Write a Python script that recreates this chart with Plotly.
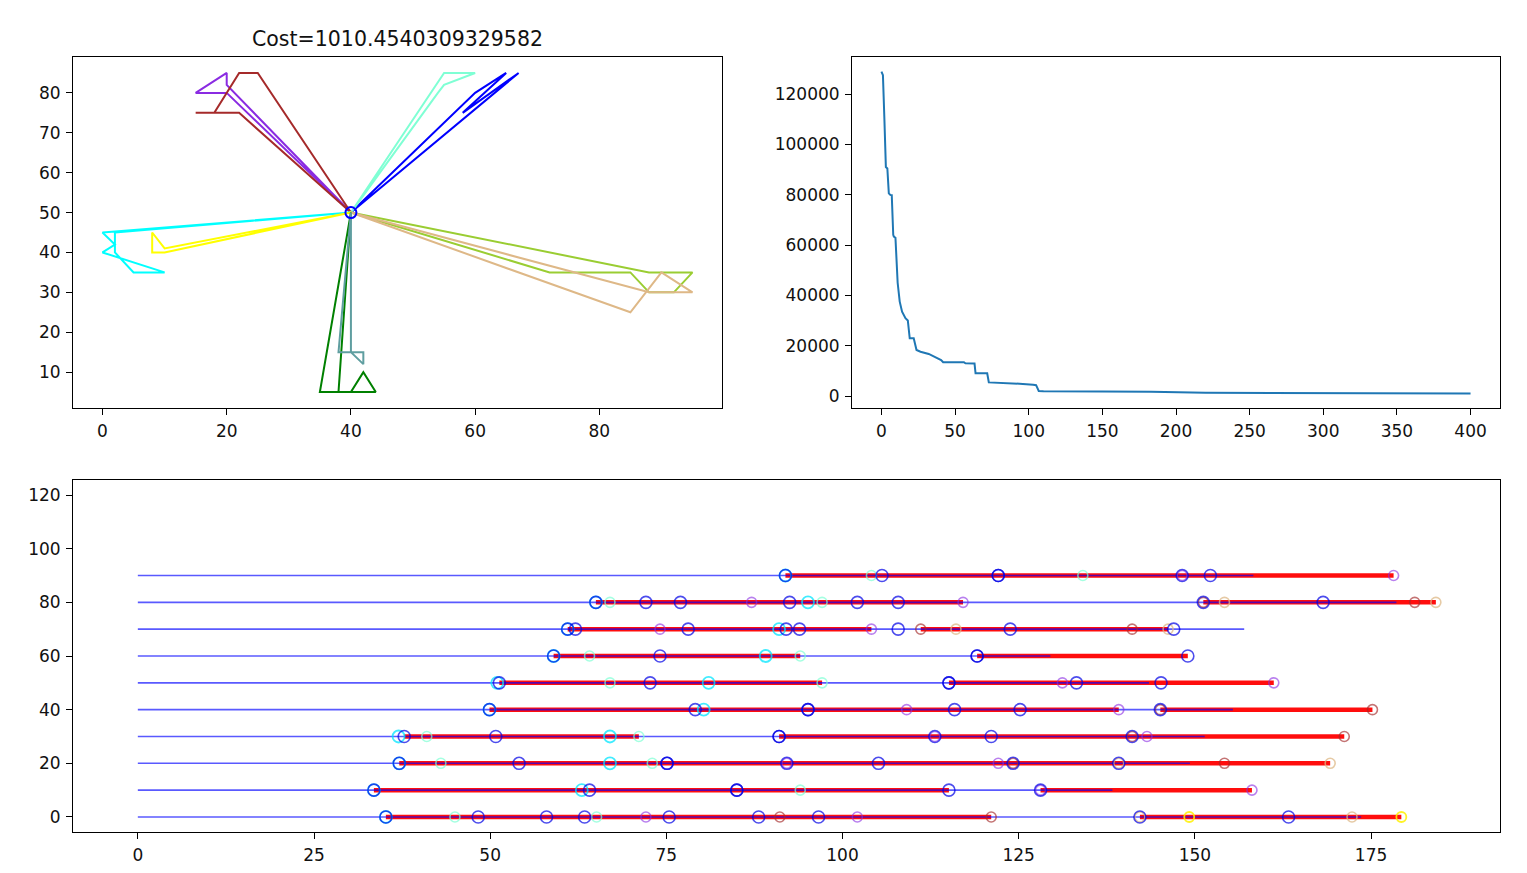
import plotly.graph_objects as go

# ---------------- Top-left: routes ----------------
route_colors = ['blue', 'aquamarine', 'blueviolet', 'brown', 'cyan', 'yellow',
                'yellowgreen', 'burlywood', 'green', 'cadetblue']
route_x = [
    [40, 60, 65, 58, 67, 40],
    [40, 55, 60, 55, 54, 40],
    [40, 20, 15, 20, 20, 40],
    [40, 25, 22, 18, 15, 22, 40],
    [40, 0, 2, 0, 10, 5, 2, 2, 40],
    [40, 10, 8, 8, 10, 40],
    [40, 72, 85, 88, 92, 95, 88, 40],
    [40, 85, 90, 95, 88, 40],
    [40, 38, 40, 42, 44, 35, 40],
    [40, 38, 42, 42, 40, 40],
]
route_y = [
    [50, 80, 85, 75, 85, 50],
    [50, 85, 85, 82, 80, 50],
    [50, 80, 80, 85, 82, 50],
    [50, 85, 85, 75, 75, 75, 50],
    [50, 45, 42, 40, 35, 35, 40, 45, 50],
    [50, 41, 45, 40, 40, 50],
    [50, 35, 35, 30, 30, 35, 35, 50],
    [50, 25, 35, 30, 30, 50],
    [50, 5, 5, 10, 5, 5, 50],
    [50, 15, 15, 12, 15, 50],
]
depot = (40, 50)
title_text = "Cost=1010.4540309329582"

# ---------------- Top-right: cost history ----------------
iter_x = [0, 1, 2, 3, 4, 5, 6, 7, 8, 8.4, 9.5, 10, 11, 12.4, 14, 16.3, 17.9, 19.2,
          21.9, 23.8, 26.5, 32.1, 35.1, 37.4, 40.5, 41.9, 56, 57, 63.2, 63.9, 71.8,
          72.9, 93.3, 96, 103, 105, 106.8, 110, 150, 183, 220, 300, 400]
cost_y = [128900, 127500, 110000, 91000, 90400, 80500, 79900, 79800, 64000, 63300,
          62900, 55000, 45000, 37500, 33500, 30900, 30000, 22900, 22900, 18300,
          17600, 16700, 15900, 15000, 14300, 13400, 13400, 13000, 12900, 9000, 9000,
          5400, 5050, 4800, 4500, 4300, 2000, 1850, 1750, 1700, 1300, 1150, 1010]

# ---------------- Bottom: schedules ----------------
rows = [0, 10, 20, 30, 40, 50, 60, 70, 80, 90]
blue_end = [173.6, 138.3, 149.3, 151.4, 155.4, 143.5, 129.5, 157.0, 178.6, 158.3]
red_segments = [
    [(35.2, 121.1), (142.2, 179.3)],
    [(33.5, 115.1), (128.1, 158.1)],
    [(37.1, 169.2)],
    [(37.8, 71.1), (91.0, 171.2)],
    [(49.9, 139.2), (145.1, 175.2)],
    [(51.3, 97.1), (115.1, 161.2)],
    [(59.0, 94.0), (119.1, 149.0)],
    [(61.0, 104.1), (111.1, 146.2)],
    [(65.0, 117.1), (151.2, 184.2)],
    [(91.9, 178.2)],
]
circ_blue = {
    0: [35.2, 48.3, 58.0, 63.4, 75.4, 88.1, 96.6, 142.2, 163.3],
    10: [33.5, 64.1, 85.0, 85.0, 115.1, 128.1],
    20: [37.1, 54.1, 75.1, 75.1, 92.1, 105.1, 124.2, 139.2],
    30: [37.8, 50.8, 91.0, 91.0, 113.1, 121.1, 141.1],
    40: [49.9, 79.1, 95.1, 95.1, 115.9, 125.2, 145.1],
    50: [51.3, 72.7, 115.1, 115.1, 133.2, 145.2],
    60: [59.0, 74.1, 119.1, 119.1, 149.0],
    70: [61.0, 62.1, 78.1, 92.0, 93.9, 107.9, 123.8, 147.0],
    80: [65.0, 72.1, 77.0, 92.5, 102.1, 107.9, 151.2, 168.2],
    90: [91.9, 105.6, 122.1, 122.1, 148.2, 152.2],
}
circ_cyan = {
    0: [35.2], 10: [33.5, 63.0], 20: [37.1, 67.0], 30: [37.0, 67.0],
    40: [49.9, 80.3], 50: [51.0, 81.0], 60: [59.0, 89.1], 70: [61.0, 91.0],
    80: [65.0, 95.1], 90: [91.9],
}
circ_aquamarine = {
    0: [45.0, 65.1], 10: [94.0], 20: [43.0, 73.0], 30: [41.0, 71.1],
    50: [67.0, 97.1], 60: [64.1, 94.0], 80: [67.0, 97.1], 90: [104.1, 134.1],
}
circ_blueviolet = {
    0: [72.1, 102.1], 10: [128.1, 158.1], 20: [92.1, 122.1], 30: [113.1, 143.2],
    40: [109.1, 139.2], 50: [131.2, 161.2], 70: [74.1, 104.1],
    80: [87.1, 117.1], 90: [148.2, 178.2],
}
circ_brown = {
    0: [91.1, 121.1], 20: [124.2, 154.2], 30: [141.1, 171.2], 40: [145.1, 175.2],
    70: [111.1, 141.1], 80: [151.2, 181.2],
}
circ_burlywood = {
    0: [142.2, 172.3], 20: [139.2, 169.2], 70: [116.1, 146.2], 80: [154.2, 184.2],
}
circ_yellow = {0: [149.2, 179.3]}

fig = go.Figure()

# top-left routes
for c, xs, ys in zip(route_colors, route_x, route_y):
    fig.add_trace(go.Scatter(x=xs, y=ys, mode='lines', line=dict(color=c, width=2),
                             xaxis='x', yaxis='y', showlegend=False, hoverinfo='skip'))
fig.add_trace(go.Scatter(x=[depot[0]], y=[depot[1]], mode='markers',
                         marker=dict(symbol='circle-open', size=11, color='blue',
                                     line=dict(width=2, color='blue')),
                         xaxis='x', yaxis='y', showlegend=False))

# top-right cost curve
fig.add_trace(go.Scatter(x=iter_x, y=cost_y, mode='lines',
                         line=dict(color='#1f77b4', width=2),
                         xaxis='x2', yaxis='y2', showlegend=False))

# bottom: red segments
rx, ry = [], []
for r, segs in zip(rows, red_segments):
    for a, b in segs:
        rx += [a, b, None]
        ry += [r, r, None]
fig.add_trace(go.Scatter(x=rx, y=ry, mode='lines', line=dict(color='rgba(255,0,0,0.95)', width=4.5),
                         xaxis='x3', yaxis='y3', showlegend=False))
# bottom: blue lines
bx, by = [], []
for r, e in zip(rows, blue_end):
    bx += [0, e, None]
    by += [r, r, None]
fig.add_trace(go.Scatter(x=bx, y=by, mode='lines', line=dict(color='rgba(0,0,255,0.65)', width=1.6),
                         xaxis='x3', yaxis='y3', showlegend=False))


def add_circles(d, color, size, width):
    xs, ys = [], []
    for r, vals in d.items():
        for v in vals:
            xs.append(v)
            ys.append(r)
    fig.add_trace(go.Scatter(x=xs, y=ys, mode='markers',
                             marker=dict(symbol='circle-open', size=size, color=color,
                                         line=dict(width=width, color=color)),
                             xaxis='x3', yaxis='y3', showlegend=False))


add_circles(circ_cyan, 'rgba(0,230,255,0.75)', 12, 1.8)
add_circles(circ_aquamarine, 'rgba(127,255,212,0.7)', 10, 1.6)
add_circles(circ_burlywood, 'rgba(222,184,135,0.75)', 10, 1.6)
add_circles(circ_yellow, 'rgba(255,240,0,0.85)', 10, 1.8)
add_circles(circ_brown, 'rgba(165,42,42,0.65)', 10, 1.6)
add_circles(circ_blueviolet, 'rgba(138,43,226,0.6)', 10, 1.6)
add_circles(circ_blue, 'rgba(0,0,230,0.7)', 12, 1.6)

W, H = 1527, 873


def dx(a, b):
    return [a / W, b / W]


def dy(top, bottom):
    return [1 - bottom / H, 1 - top / H]


tickfont = dict(family='DejaVu Sans', size=17, color='#111111')
axcommon = dict(showline=True, linecolor='black', linewidth=1, mirror=True,
                ticks='outside', ticklen=6, tickcolor='black', showgrid=False,
                zeroline=False, tickfont=tickfont, ticklabelstandoff=2)

fig.update_layout(
    width=W, height=H, margin=dict(l=0, r=0, t=0, b=0),
    paper_bgcolor='white', plot_bgcolor='white',
    xaxis=dict(domain=dx(73, 722), range=[-4.75, 99.75], tickvals=[0, 20, 40, 60, 80],
               anchor='y', **axcommon),
    yaxis=dict(domain=dy(57, 408), range=[1, 89], tickvals=[10, 20, 30, 40, 50, 60, 70, 80],
               anchor='x', **axcommon),
    xaxis2=dict(domain=dx(852, 1500), range=[-20, 420],
                tickvals=[0, 50, 100, 150, 200, 250, 300, 350, 400], anchor='y2', **axcommon),
    yaxis2=dict(domain=dy(57, 408), range=[-4770, 134700],
                tickvals=[0, 20000, 40000, 60000, 80000, 100000, 120000],
                ticktext=['0', '20000', '40000', '60000', '80000', '100000', '120000'],
                anchor='x2', **axcommon),
    xaxis3=dict(domain=dx(73, 1500), range=[-9.2, 193.3],
                tickvals=[0, 25, 50, 75, 100, 125, 150, 175], anchor='y3', **axcommon),
    yaxis3=dict(domain=dy(480, 832), range=[-5.6, 125.6],
                tickvals=[0, 20, 40, 60, 80, 100, 120], anchor='x3', **axcommon),
    annotations=[dict(text=title_text, x=(73 + 722) / 2 / W, y=1 - 39 / H,
                      xref='paper', yref='paper', showarrow=False,
                      font=dict(family='DejaVu Sans', size=20.5, color='#111111'),
                      xanchor='center', yanchor='middle')],
)

fig.write_html("out.html", config={'displayModeBar': False},
               post_script="document.body.style.margin='0px';")
